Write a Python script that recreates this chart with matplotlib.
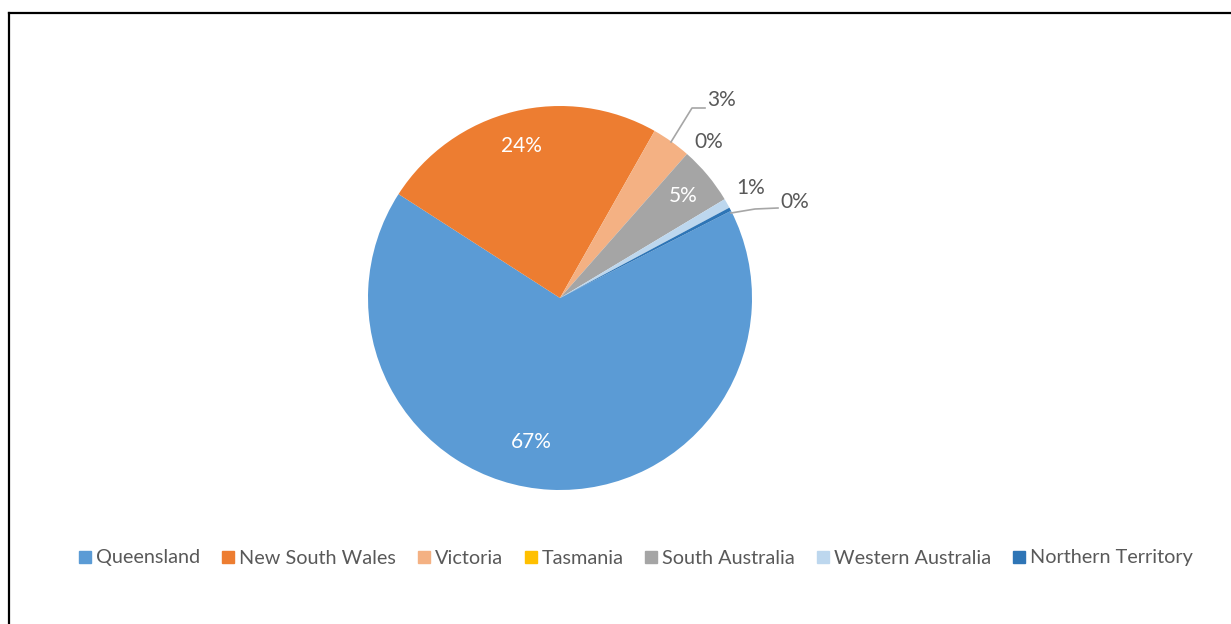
import matplotlib.pyplot as plt
from matplotlib.lines import Line2D

W, H = 1231, 624

regions = ['Queensland', 'New South Wales', 'Victoria', 'Tasmania',
           'South Australia', 'Western Australia', 'Northern Territory']
shares = [66.6, 24.1, 3.3, 0.0, 4.9, 0.8, 0.3]
colors = ['#5B9BD5', '#ED7D31', '#F4B183', '#FFC000', '#A5A5A5', '#BDD7EE', '#2E75B6']

plt.rcParams['font.family'] = ['Lato', 'DejaVu Sans']

fig = plt.figure(figsize=(W / 100, H / 100), dpi=100)
ax = fig.add_axes([0, 0, 1, 1])

def py(y):
    # image y (top-down) -> axis y
    return H - y

# pie, Excel style: first slice starts at the right and goes clockwise
ax.pie(shares, colors=colors, startangle=27, counterclock=False,
       center=(560, py(298)), radius=192, frame=True,
       wedgeprops=dict(linewidth=0))
ax.set_xlim(0, W)
ax.set_ylim(0, H)
ax.set_aspect('equal')
ax.axis('off')

# label placement (image pixels) and colour
lab_pos = [(531, 442), (521, 146), (722, 100), (709, 142), (683, 196), (751, 188), (795, 202)]
lab_col = ['white', 'white', '#595959', '#595959', 'white', '#595959', '#595959']
for v, (x, y), c in zip(shares, lab_pos, lab_col):
    ax.text(x, py(y), '%.0f%%' % v, color=c, fontsize=15, ha='center', va='center')

# leader lines
lc = '#A6A6A6'
ax.plot([671, 692, 705], [py(142), py(108), py(108)], color=lc, lw=1.2)
ax.plot([731, 755, 778], [py(213), py(209), py(208)], color=lc, lw=1.2)

# legend
handles = [Line2D([], [], marker='s', linestyle='none', markersize=8.6,
                  markerfacecolor=c, markeredgecolor=c) for c in colors]
fig.legend(handles, regions, loc='center', bbox_to_anchor=(636 / W, 1 - 558 / H),
           ncol=7, frameon=False, fontsize=14.3, handletextpad=0.25,
           columnspacing=1.1, handlelength=0.6, labelcolor='#595959')

# chart border (left and top visible)
fig.add_artist(Line2D([9 / W, 9 / W], [0, 1 - 13 / H], color='black', lw=1.6))
fig.add_artist(Line2D([9 / W, 1], [1 - 13 / H, 1 - 13 / H], color='black', lw=1.6))

fig.savefig('out.png', dpi=100)
